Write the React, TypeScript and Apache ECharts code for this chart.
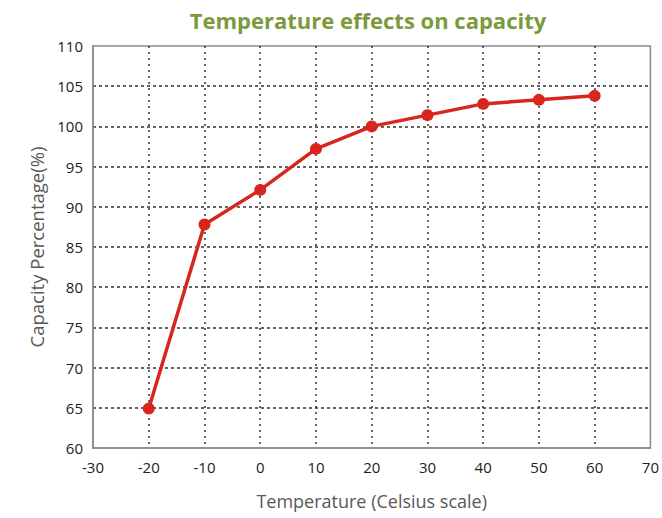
import React, { useEffect, useRef } from "react";
import * as echarts from "echarts";

const temperatures = [-20, -10, 0, 10, 20, 30, 40, 50, 60];
const capacity = [64.9, 87.8, 92.1, 97.2, 100.0, 101.4, 102.8, 103.3, 103.8];
const titleText = "Temperature effects on capacity";
const xName = "Temperature (Celsius scale)";
const yName = "Capacity Percentage(%)";

export default function App() {
  const ref = useRef<HTMLDivElement>(null);
  useEffect(() => {
    if (!ref.current) return;
    const chart = echarts.init(ref.current, null, { renderer: "svg" });
    const font = "'Open Sans', 'Noto Sans', sans-serif";
    chart.setOption({
      animation: false,
      backgroundColor: "#ffffff",
      title: {
        text: titleText,
        left: 363,
        top: 4,
        textAlign: "center",
        textStyle: { color: "#7a9a3c", fontSize: 22, fontWeight: "bold", fontFamily: font },
      },
      grid: {
        left: 93,
        right: 9,
        top: 46,
        bottom: 70,
        show: true,
        borderColor: "#8a8a8a",
        borderWidth: 1.5,
      },
      xAxis: {
        type: "value",
        min: -30,
        max: 70,
        interval: 10,
        name: xName,
        nameLocation: "middle",
        nameGap: 44,
        nameTextStyle: { color: "#595959", fontSize: 18, fontFamily: font },
        axisLine: { show: true, onZero: false, lineStyle: { color: "#8a8a8a", width: 1.5 } },
        axisTick: { show: false },
        axisLabel: { color: "#222", fontSize: 15, fontFamily: font, margin: 11 },
        splitLine: {
          show: true,
          showMinLine: false,
          showMaxLine: false,
          lineStyle: { color: "#333", width: 1.5, type: [2, 4] },
        },
      },
      yAxis: {
        type: "value",
        min: 60,
        max: 110,
        interval: 5,
        name: yName,
        nameLocation: "middle",
        nameGap: 46,
        nameTextStyle: { color: "#595959", fontSize: 18.5, fontFamily: font },
        axisLine: { show: true, onZero: false, lineStyle: { color: "#8a8a8a", width: 1.5 } },
        axisTick: { show: false },
        axisLabel: { color: "#222", fontSize: 15, fontFamily: font, margin: 10 },
        splitLine: {
          show: true,
          showMinLine: false,
          showMaxLine: false,
          lineStyle: { color: "#333", width: 1.5, type: [3, 3] },
        },
      },
      series: [
        {
          type: "line",
          data: temperatures.map((t, i) => [t, capacity[i]]),
          symbol: "circle",
          symbolSize: 12,
          lineStyle: { color: "#d8261e", width: 3.5 },
          itemStyle: { color: "#d8261e" },
        },
      ],
    });
    return () => chart.dispose();
  }, []);
  return <div ref={ref} style={{ width: 662, height: 518, position: "absolute", left: 0, top: 0 }} />;
}
